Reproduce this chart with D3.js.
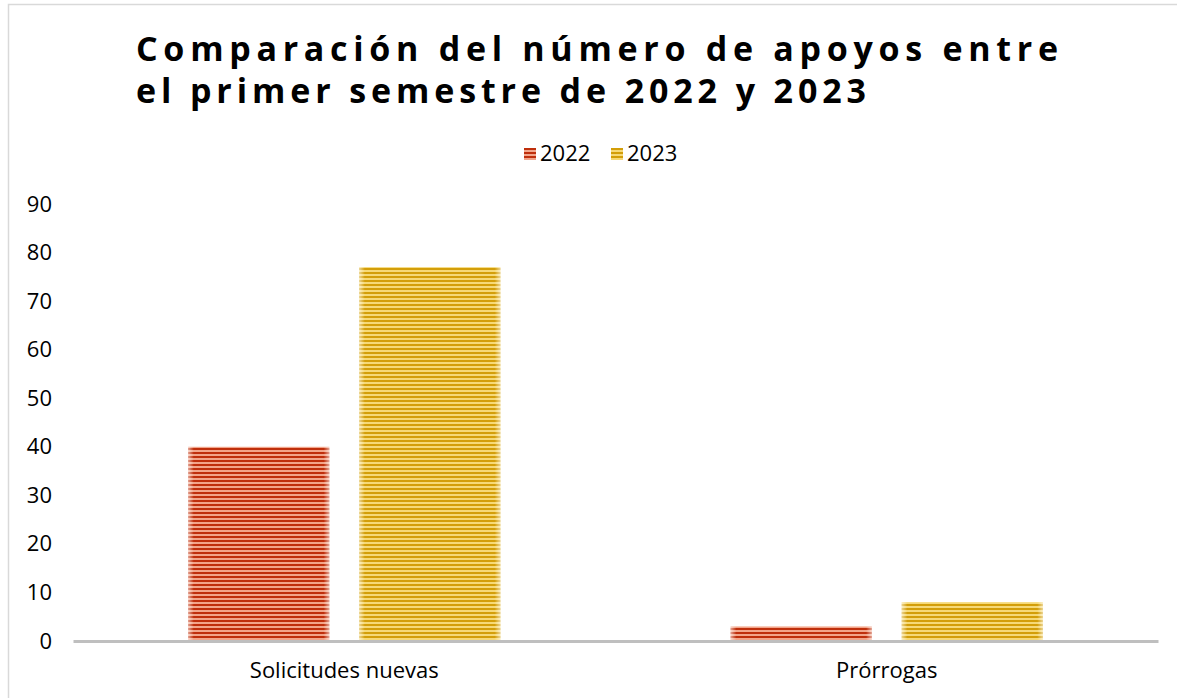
<!DOCTYPE html>
<html>
<head>
<meta charset="utf-8">
<script src="https://cdn.jsdelivr.net/npm/d3@7"></script>
<style>
  body { margin: 0; background: #fff; }
  svg { display: block; font-family: "Open Sans", "Noto Sans", sans-serif; }
</style>
</head>
<body>
<div id="chart"></div>
<script>
// Comparación de apoyos 2022 vs 2023 - grouped bar chart

const categories = ['Solicitudes nuevas', 'Prórrogas'];
const series = ['2022', '2023'];
const values2022 = [40, 3];
const values2023 = [77, 8];
const yTicks = [0, 10, 20, 30, 40, 50, 60, 70, 80, 90];
const titleLines = ['Comparación del número de apoyos entre', 'el primer semestre de 2022 y 2023'];

const W = 1177, H = 698;
const colors = {
  '2022': { dark: '#bf2f0c', light: '#f2a58a' },
  '2023': { dark: '#d39e09', light: '#f6d977' },
};

const svg = d3.select('#chart').append('svg')
  .attr('width', W)
  .attr('height', H);

// Outer frame
svg.append('rect')
  .attr('x', 8.5).attr('y', 4.5)
  .attr('width', W + 10).attr('height', H + 10)
  .attr('fill', '#fff')
  .attr('stroke', '#d9d9d9')
  .attr('stroke-width', 1.5);

const defs = svg.append('defs');

// Striped fills
series.forEach(s => {
  const p = defs.append('pattern')
    .attr('id', 'stripe' + s)
    .attr('patternUnits', 'userSpaceOnUse')
    .attr('width', 8).attr('height', 4);
  p.append('rect').attr('width', 8).attr('height', 4).attr('fill', colors[s].light);
  p.append('rect').attr('y', 0).attr('width', 8).attr('height', 2).attr('fill', colors[s].dark);
});

// Soft edge overlay
const edge = defs.append('linearGradient').attr('id', 'edge');
[[0, 0.55], [0.04, 0], [0.96, 0], [1, 0.55]].forEach(([o, a]) => {
  edge.append('stop').attr('offset', o).attr('stop-color', '#fff').attr('stop-opacity', a);
});

// Title
svg.append('g').selectAll('text')
  .data(titleLines).join('text')
  .attr('x', 136)
  .attr('y', (d, i) => 61 + i * 42)
  .attr('font-size', 34)
  .attr('font-weight', 'bold')
  .attr('fill', '#000')
  .attr('textLength', (d, i) => i === 0 ? 922 : 730)
  .attr('lengthAdjust', 'spacing')
  .text(d => d);

// Legend
const legendPos = { '2022': 524, '2023': 611 };
const legend = svg.append('g').selectAll('g')
  .data(series).join('g')
  .attr('transform', d => `translate(${legendPos[d]},148)`);
legend.append('rect')
  .attr('width', 12).attr('height', 12)
  .attr('fill', d => `url(#stripe${d})`);
legend.append('text')
  .attr('x', 16).attr('y', 13)
  .attr('font-size', 22)
  .attr('fill', '#000')
  .text(d => d);

// Scales
const y = d3.scaleLinear().domain([0, 90]).range([641, 204]);
const x0 = d3.scaleBand().domain(categories).range([73, 1158]).padding(0);
const x1 = d3.scaleBand().domain(series).range([0, x0.bandwidth()])
  .paddingInner(0.175).paddingOuter(0.673);

// Y axis (labels only)
const yAxis = svg.append('g')
  .attr('transform', 'translate(52,0)')
  .call(d3.axisLeft(y).tickValues(yTicks).tickSize(0).tickPadding(0));
yAxis.select('.domain').remove();
yAxis.selectAll('text')
  .attr('font-size', 22)
  .attr('font-family', '"Open Sans", "Noto Sans", sans-serif')
  .attr('fill', '#000');

// Bars
const rows = categories.map((c, i) => ({ cat: c, vals: [
  { s: '2022', v: values2022[i] },
  { s: '2023', v: values2023[i] },
] }));

const groups = svg.append('g').selectAll('g')
  .data(rows).join('g')
  .attr('transform', d => `translate(${x0(d.cat)},0)`);

const bars = groups.selectAll('g')
  .data(d => d.vals).join('g');

bars.append('rect')
  .attr('x', d => x1(d.s))
  .attr('y', d => y(d.v))
  .attr('width', x1.bandwidth())
  .attr('height', d => y(0) - y(d.v))
  .attr('fill', d => `url(#stripe${d.s})`);

bars.append('rect')
  .attr('x', d => x1(d.s))
  .attr('y', d => y(d.v))
  .attr('width', x1.bandwidth())
  .attr('height', d => y(0) - y(d.v))
  .attr('fill', 'url(#edge)');

// X axis
const xAxis = svg.append('g')
  .attr('transform', 'translate(0,641)')
  .call(d3.axisBottom(x0).tickSize(0).tickPadding(21));
xAxis.select('.domain')
  .attr('stroke', '#bfbfbf')
  .attr('stroke-width', 3);
xAxis.selectAll('text')
  .attr('font-size', 22)
  .attr('font-family', '"Open Sans", "Noto Sans", sans-serif')
  .attr('fill', '#000');
</script>
</body>
</html>
